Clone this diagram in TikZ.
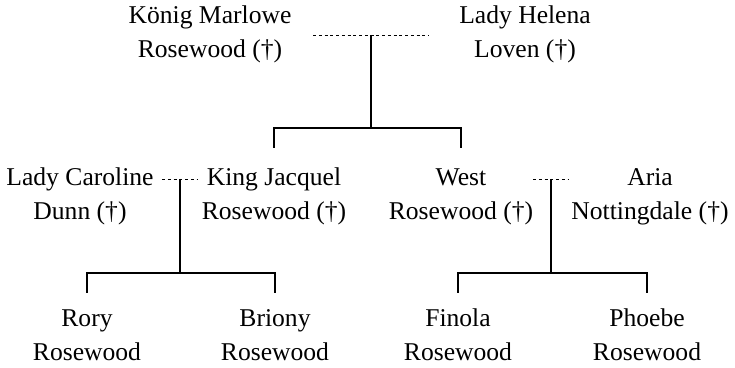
\documentclass[tikz,border=0pt]{standalone}
\usepackage{fontspec}
\setmainfont{Liberation Serif}
\begin{document}
\begin{tikzpicture}[x=1pt, y=1pt, line width=1.1pt,
  person/.style={align=center, inner sep=0pt, font=\fontsize{25.6}{34}\selectfont},
  wedlock/.style={line width=0.9pt, dash pattern=on 3pt off 2.75pt}]
\useasboundingbox (0,0) rectangle (735,367);
\node[person] (marlowe) at (210,332.8){\strut König Marlowe\\\strut Rosewood (†)};
\node[person] (helena) at (525,332.8){\strut Lady Helena\\\strut Loven (†)};
\node[person] (caroline) at (80,171.8){\strut Lady Caroline\\\strut Dunn (†)};
\node[person] (jacquel) at (274,171.8){\strut King Jacquel\\\strut Rosewood (†)};
\node[person] (west) at (461,171.8){\strut West\\\strut Rosewood (†)};
\node[person] (aria) at (650,171.8){\strut Aria\\\strut Nottingdale (†)};
\node[person] (rory) at (87,30.3){\strut Rory\\\strut Rosewood};
\node[person] (briony) at (275,30.3){\strut Briony\\\strut Rosewood};
\node[person] (finola) at (458,30.3){\strut Finola\\\strut Rosewood};
\node[person] (phoebe) at (647,30.3){\strut Phoebe\\\strut Rosewood};
\coordinate (wed0) at (371,332);
\draw[wedlock] ([xshift=-58]wed0) -- ([xshift=58]wed0);
\draw (wed0) -- ++(0,-93) coordinate (bar0);
\draw (bar0) -| ([yshift=12.2]jacquel.north);
\draw (bar0) -| ([yshift=12.2]west.north);
\coordinate (wed1) at (180,188);
\draw[wedlock] ([xshift=-18]wed1) -- ([xshift=18]wed1);
\draw (wed1) -- ++(0,-94) coordinate (bar1);
\draw (bar1) -| ([yshift=8.7]rory.north);
\draw (bar1) -| ([yshift=8.7]briony.north);
\coordinate (wed2) at (551,188);
\draw[wedlock] ([xshift=-18]wed2) -- ([xshift=18]wed2);
\draw (wed2) -- ++(0,-94) coordinate (bar2);
\draw (bar2) -| ([yshift=8.7]finola.north);
\draw (bar2) -| ([yshift=8.7]phoebe.north);
\end{tikzpicture}
\end{document}
